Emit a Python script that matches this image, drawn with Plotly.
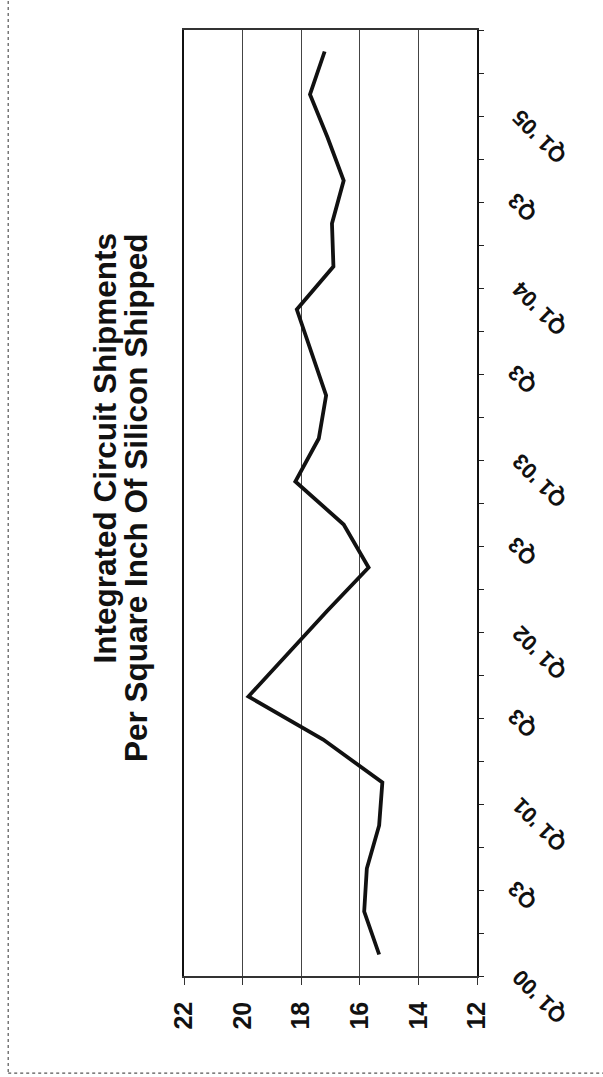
import plotly.graph_objects as go

# Quarterly series, Q1 2000 through Q2 2005
quarters = [
    "Q1 '00", "Q2 '00", "Q3 '00", "Q4 '00",
    "Q1 '01", "Q2 '01", "Q3 '01", "Q4 '01",
    "Q1 '02", "Q2 '02", "Q3 '02", "Q4 '02",
    "Q1 '03", "Q2 '03", "Q3 '03", "Q4 '03",
    "Q1 '04", "Q2 '04", "Q3 '04", "Q4 '04",
    "Q1 '05", "Q2 '05",
]
ic_per_sq_inch = [
    15.34, 15.85, 15.76, 15.34,
    15.23, 17.25, 19.80, 18.45,
    17.10, 15.70, 16.55, 18.20,
    17.40, 17.15, 17.65, 18.15,
    16.90, 16.95, 16.55, 17.10,
    17.70, 17.20,
]
# Category labels shown on every other quarter
quarter_labels = [
    "Q1 '00", "", "Q3", "",
    "Q1 '01", "", "Q3", "",
    "Q1 '02", "", "Q3", "",
    "Q1 '03", "", "Q3", "",
    "Q1 '04", "", "Q3", "",
    "Q1 '05", "",
]
value_ticks = [12, 14, 16, 18, 20, 22]

title_lines = ["Integrated Circuit Shipments", "Per Square Inch Of Silicon Shipped"]

FONT = "Liberation Sans, Arial, sans-serif"

fig = go.Figure()
fig.add_trace(go.Scatter(
    x=ic_per_sq_inch,
    y=quarters,
    mode="lines",
    line=dict(color="#111111", width=3.8),
    showlegend=False,
))

annotations = []
# Chart title, two lines turned to read bottom-to-top, ends aligned at the top
title_pos = [(-0.273, 0.5576), (-0.164, 0.5063)]
for line, (tx, ty) in zip(title_lines, title_pos):
    annotations.append(dict(
        text=line,
        xref="paper", yref="paper",
        x=tx, y=ty,
        xanchor="center", yanchor="middle",
        textangle=-90,
        showarrow=False,
        font=dict(family=FONT, size=31.5, color="#111111", weight="bold"),
    ))
# Slanted quarter labels along the category axis
for q, lab in zip(quarters, quarter_labels):
    if not lab:
        continue
    long_lab = len(lab) > 2
    annotations.append(dict(
        text=lab,
        xref="paper", yref="y",
        x=1.2116 if long_lab else 1.155,
        y=q,
        yshift=-(42 if long_lab else 27),
        xanchor="center", yanchor="middle",
        textangle=-135,
        showarrow=False,
        font=dict(family=FONT, size=22, color="#111111", weight="bold"),
    ))

fig.update_layout(
    width=603, height=1077,
    margin=dict(l=184, r=126, t=30, b=101),
    paper_bgcolor="white", plot_bgcolor="white",
    annotations=annotations,
    shapes=[dict(
        type="rect", xref="paper", yref="paper",
        x0=-0.6, x1=1.45, y0=-0.1026, y1=1.05,
        line=dict(color="#555555", width=1.2, dash="dot"),
    )],
    xaxis=dict(
        range=[22, 12],
        tickmode="array", tickvals=value_ticks,
        ticktext=[str(v) for v in value_ticks],
        tickangle=-90,
        tickfont=dict(family=FONT, size=25, color="#111111", weight="bold"),
        ticks="outside", ticklen=7, tickcolor="#333333", tickwidth=1,
        ticklabelstandoff=7,
        showgrid=True, gridcolor="#444444", gridwidth=1,
        showline=True, linecolor="#333333", linewidth=1.5, mirror=True,
        zeroline=False,
    ),
    yaxis=dict(
        type="category",
        categoryorder="array", categoryarray=quarters,
        range=[-0.5, len(quarters) - 0.5],
        side="right",
        showticklabels=False,
        ticks="outside", tickson="boundaries", ticklen=5,
        tickcolor="#222222", tickwidth=1,
        showgrid=False,
        showline=True, linecolor="#111111", linewidth=2, mirror=True,
        zeroline=False,
    ),
)

fig.write_html("out.html")
